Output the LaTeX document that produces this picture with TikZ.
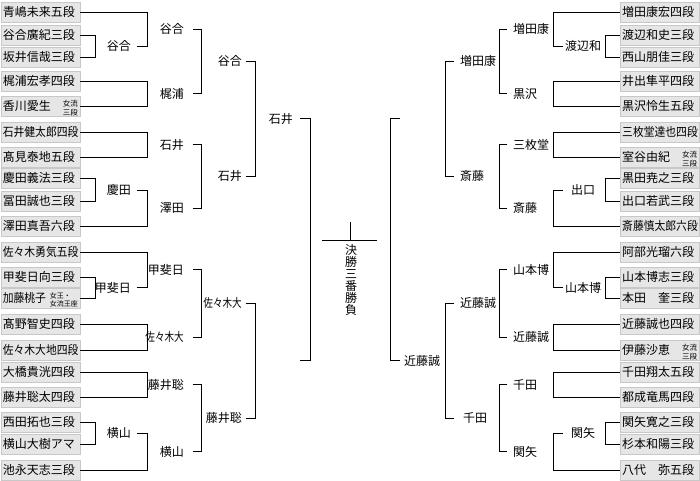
\documentclass[tikz,border=0pt]{standalone}
\usepackage{fontspec}
\setmainfont{Noto Sans CJK JP}
\usepackage{graphicx}
\definecolor{boxfill}{RGB}{230,230,230}
\definecolor{boxline}{RGB}{200,200,200}
\tikzset{
  pbox/.style={draw=boxline, fill=boxfill, line width=0.6pt, minimum height=20pt,
    inner xsep=2pt, inner ysep=0pt, text height=10.5pt, text depth=1.5pt,
    font=\fontsize{12}{12}\selectfont},
  lbl/.style={inner sep=0pt, text height=10.5pt, text depth=1.5pt,
    font=\fontsize{12}{12}\selectfont},
  br/.style={line width=0.9pt}
}
\newcommand\nm[1]{\makebox[75pt][l]{#1}}
\newcommand\sq[1]{\scalebox{0.9}[1]{#1}}
\newcommand\sqq[1]{\scalebox{0.8}[1]{#1}}
\newcommand\ann[2]{\hfill{\fontsize{7.5}{8}\selectfont\begin{tabular}[c]{@{}l@{}}#1\\#2\end{tabular}}}
\newcommand\annk[2]{\hfill{\fontsize{7}{8}\selectfont\begin{tabular}[c]{@{}l@{}}#1\\#2\end{tabular}}}
\begin{document}
\begin{tikzpicture}[x=1pt,y=-1pt]
\useasboundingbox (0,0) rectangle (700,480);
% column coordinates
\coordinate (xa) at (95,0);  \coordinate (xb) at (147,0); \coordinate (xc) at (201,0);
\coordinate (xd) at (255,0); \coordinate (xe) at (310,0);
\coordinate (ya) at (605,0); \coordinate (yb) at (553,0); \coordinate (ysub) at (563,0);
\coordinate (yc) at (499,0); \coordinate (yd) at (445,0); \coordinate (ye) at (390,0);
% left boxes
\node[pbox, anchor=west] (L0) at (0.5,12) {\nm{青嶋未来五段}};
\node[pbox, anchor=west] (L1) at (0.5,35) {\nm{谷合廣紀三段}};
\node[pbox, anchor=west] (L2) at (0.5,57) {\nm{坂井信哉三段}};
\node[pbox, anchor=west] (L3) at (0.5,81) {\nm{梶浦宏孝四段}};
\node[pbox, anchor=west] (L4) at (0.5,106) {\nm{香川愛生\ann{女流}{三段}}};
\node[pbox, anchor=west] (L5) at (0.5,132) {\nm{\sq{石井健太郎四段}}};
\node[pbox, anchor=west] (L6) at (0.5,157) {\nm{髙見泰地五段}};
\node[pbox, anchor=west] (L7) at (0.5,178) {\nm{慶田義法三段}};
\node[pbox, anchor=west] (L8) at (0.5,201) {\nm{冨田誠也三段}};
\node[pbox, anchor=west] (L9) at (0.5,226) {\nm{澤田真吾六段}};
\node[pbox, anchor=west] (L10) at (0.5,252) {\nm{\sq{佐々木勇気五段}}};
\node[pbox, anchor=west] (L11) at (0.5,277) {\nm{甲斐日向三段}};
\node[pbox, anchor=west] (L12) at (0.5,298) {\nm{\sq{加藤桃子}\annk{女王・}{女流王座}}};
\node[pbox, anchor=west] (L13) at (0.5,324) {\nm{髙野智史四段}};
\node[pbox, anchor=west] (L14) at (0.5,350) {\nm{\sq{佐々木大地四段}}};
\node[pbox, anchor=west] (L15) at (0.5,372) {\nm{大橋貴洸四段}};
\node[pbox, anchor=west] (L16) at (0.5,397) {\nm{藤井聡太四段}};
\node[pbox, anchor=west] (L17) at (0.5,422) {\nm{西田拓也三段}};
\node[pbox, anchor=west] (L18) at (0.5,444) {\nm{横山大樹アマ}};
\node[pbox, anchor=west] (L19) at (0.5,470) {\nm{池永天志三段}};
% right boxes
\node[pbox, anchor=east] (R0) at (699.5,12) {\nm{増田康宏四段}};
\node[pbox, anchor=east] (R1) at (699.5,35) {\nm{渡辺和史三段}};
\node[pbox, anchor=east] (R2) at (699.5,57) {\nm{西山朋佳三段}};
\node[pbox, anchor=east] (R3) at (699.5,81) {\nm{井出隼平四段}};
\node[pbox, anchor=east] (R4) at (699.5,106) {\nm{黒沢怜生五段}};
\node[pbox, anchor=east] (R5) at (699.5,132) {\nm{\sq{三枚堂達也四段}}};
\node[pbox, anchor=east] (R6) at (699.5,157) {\nm{室谷由紀\ann{女流}{三段}}};
\node[pbox, anchor=east] (R7) at (699.5,178) {\nm{黒田尭之三段}};
\node[pbox, anchor=east] (R8) at (699.5,201) {\nm{出口若武三段}};
\node[pbox, anchor=east] (R9) at (699.5,226) {\nm{\sq{斎藤慎太郎六段}}};
\node[pbox, anchor=east] (R10) at (699.5,252) {\nm{阿部光瑠六段}};
\node[pbox, anchor=east] (R11) at (699.5,277) {\nm{山本博志三段}};
\node[pbox, anchor=east] (R12) at (699.5,298) {\nm{本田　奎三段}};
\node[pbox, anchor=east] (R13) at (699.5,324) {\nm{近藤誠也四段}};
\node[pbox, anchor=east] (R14) at (699.5,350) {\nm{伊藤沙恵\ann{女流}{三段}}};
\node[pbox, anchor=east] (R15) at (699.5,372) {\nm{千田翔太五段}};
\node[pbox, anchor=east] (R16) at (699.5,397) {\nm{都成竜馬四段}};
\node[pbox, anchor=east] (R17) at (699.5,422) {\nm{関矢寛之三段}};
\node[pbox, anchor=east] (R18) at (699.5,444) {\nm{杉本和陽三段}};
\node[pbox, anchor=east] (R19) at (699.5,470) {\nm{八代　弥五段}};

% ===== left upper =====
\node[lbl, anchor=east] (sA) at (131,46) {谷合};
\draw[br] (L1.east) -| (xa |- L2.east) -- (L2.east);
\draw[br] (L0.east) -| (xb |- sA) -- ([xshift=6pt]sA.east);
\node[lbl, anchor=east] (aA) at (184,29) {谷合};
\draw[br] (L3.east) -| (xb |- L4.east) -- (L4.east);
\node[lbl, anchor=east] (aB) at (184,93.5) {梶浦};
\node[lbl, anchor=east] (bA) at (242,61) {谷合};
\draw[br] ([xshift=9pt]aA.east) -| (xc |- aB) -- ([xshift=9pt]aB.east);
\draw[br] (L5.east) -| (xb |- L6.east) -- (L6.east);
\node[lbl, anchor=east] (aC) at (184,144.5) {石井};
\node[lbl, anchor=east] (sD) at (131,190) {慶田};
\draw[br] (L7.east) -| (xa |- L8.east) -- (L8.east);
\draw[br] ([xshift=6pt]sD.east) -| (xb |- L9.east) -- (L9.east);
\node[lbl, anchor=east] (aD) at (184,208) {澤田};
\node[lbl, anchor=east] (bC) at (242,176) {石井};
\draw[br] ([xshift=9pt]aC.east) -| (xc |- aD) -- ([xshift=9pt]aD.east);
\node[lbl, anchor=east] (c1) at (293,118.5) {石井};
\draw[br] ([xshift=4pt]bA.east) -| (xd |- bC) -- ([xshift=4pt]bC.east);
% ===== left lower =====
\node[lbl, anchor=east] (sE) at (131,287.5) {甲斐日};
\draw[br] (L11.east) -| (xa |- L12.east) -- (L12.east);
\draw[br] (L10.east) -| (xb |- sE) -- ([xshift=6pt]sE.east);
\node[lbl, anchor=east] (aE) at (184,269.5) {甲斐日};
\draw[br] (L13.east) -| (xb |- L14.east) -- (L14.east);
\node[lbl, anchor=east] (aF) at (184,337) {\sqq{佐々木大}};
\node[lbl, anchor=east] (bE) at (242,303) {\sqq{佐々木大}};
\draw[br] ([xshift=9pt]aE.east) -| (xc |- aF) -- ([xshift=9pt]aF.east);
\draw[br] (L15.east) -| (xb |- L16.east) -- (L16.east);
\node[lbl, anchor=east] (aG) at (184,384.5) {藤井聡};
\node[lbl, anchor=east] (sH) at (131,433) {横山};
\draw[br] (L17.east) -| (xa |- L18.east) -- (L18.east);
\draw[br] ([xshift=6pt]sH.east) -| (xb |- L19.east) -- (L19.east);
\node[lbl, anchor=east] (aH) at (184,451.5) {横山};
\node[lbl, anchor=east] (bG) at (242,418) {藤井聡};
\draw[br] ([xshift=9pt]aG.east) -| (xc |- aH) -- ([xshift=9pt]aH.east);
\coordinate (c2) at (300,360.5);
\draw[br] ([xshift=4pt]bE.east) -| (xd |- bG) -- ([xshift=4pt]bG.east);
\draw[br] ([xshift=7pt]c1.east) -| (xe |- c2) -- (c2);

% ===== right upper =====
\node[lbl] (tA) at (583,46) {渡辺和};
\draw[br] (R1.west) -| (ya |- R2.west) -- (R2.west);
\draw[br] (R0.west) -| (yb |- tA) -- (ysub |- tA);
\node[lbl, anchor=west] (dA) at (513,29) {増田康};
\draw[br] (R3.west) -| (yb |- R4.west) -- (R4.west);
\node[lbl, anchor=west] (dB) at (513,93.5) {黒沢};
\node[lbl, anchor=west] (eA) at (460,61) {増田康};
\draw[br] ([xshift=-6pt]dA.west) -| (yc |- dB) -- ([xshift=-6pt]dB.west);
\draw[br] (R5.west) -| (yb |- R6.west) -- (R6.west);
\node[lbl, anchor=west] (dC) at (513,144.5) {三枚堂};
\node[lbl] (tD) at (583,190) {出口};
\draw[br] (R7.west) -| (ya |- R8.west) -- (R8.west);
\draw[br] (ysub |- tD) -- (yb |- tD) |- (R9.west);
\node[lbl, anchor=west] (dD) at (513,208) {斎藤};
\node[lbl, anchor=west] (eC) at (460,176) {斎藤};
\draw[br] ([xshift=-6pt]dC.west) -| (yc |- dD) -- ([xshift=-6pt]dD.west);
\coordinate (f1) at (400,118.5);
\draw[br] ([xshift=-6pt]eA.west) -| (yd |- eC) -- ([xshift=-6pt]eC.west);
% ===== right lower =====
\node[lbl] (tE) at (583,287.5) {山本博};
\draw[br] (R11.west) -| (ya |- R12.west) -- (R12.west);
\draw[br] (R10.west) -| (yb |- tE) -- (ysub |- tE);
\node[lbl, anchor=west] (dE) at (513,269.5) {山本博};
\draw[br] (R13.west) -| (yb |- R14.west) -- (R14.west);
\node[lbl, anchor=west] (dF) at (513,337) {近藤誠};
\node[lbl, anchor=west] (eE) at (460,303) {近藤誠};
\draw[br] ([xshift=-6pt]dE.west) -| (yc |- dF) -- ([xshift=-6pt]dF.west);
\draw[br] (R15.west) -| (yb |- R16.west) -- (R16.west);
\node[lbl, anchor=west] (dG) at (513,384.5) {千田};
\node[lbl] (tH) at (583,433) {関矢};
\draw[br] (R17.west) -| (ya |- R18.west) -- (R18.west);
\draw[br] (ysub |- tH) -- (yb |- tH) |- (R19.west);
\node[lbl, anchor=west] (dH) at (513,451.5) {関矢};
\node[lbl, anchor=west] (eG) at (463,418) {千田};
\draw[br] ([xshift=-6pt]dG.west) -| (yc |- dH) -- ([xshift=-6pt]dH.west);
\node[lbl, anchor=west] (f2) at (404,360.5) {近藤誠};
\draw[br] ([xshift=-6pt]eE.west) -| (yd |- eG) -- ([xshift=-9pt]eG.west);
\draw[br] (f1) -| (ye |- f2) -- ([xshift=-4pt]f2.west);

% ===== final =====
\coordinate (finT) at (350,222);
\coordinate (finL) at (322,240);
\coordinate (finR) at (377,240);
\draw[br] (finT) -- (finT |- finL);
\draw[br] (finL) -- (finR);
\node[inner sep=0pt, anchor=north, align=center, font=\fontsize{12}{12}\selectfont] (ft) at (351,244) {決\\勝\\三\\番\\勝\\負};
\end{tikzpicture}
\end{document}
